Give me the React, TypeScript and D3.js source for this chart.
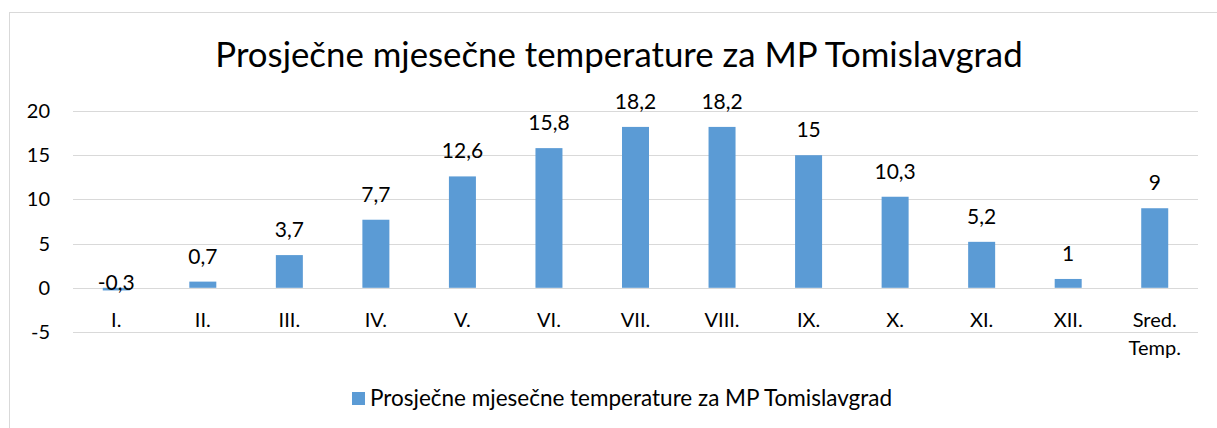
import { useEffect, useRef } from "react";
import * as d3 from "d3";

const categories = ["I.", "II.", "III.", "IV.", "V.", "VI.", "VII.", "VIII.", "IX.", "X.", "XI.", "XII.", "Sred.\nTemp."];
const temperatures = [-0.3, 0.7, 3.7, 7.7, 12.6, 15.8, 18.2, 18.2, 15, 10.3, 5.2, 1, 9];
const yTicks = [-5, 0, 5, 10, 15, 20];
const seriesName = "Prosječne mjesečne temperature za MP Tomislavgrad";
const chartTitle = "Prosječne mjesečne temperature za MP Tomislavgrad";

const FONT = "Lato, 'Open Sans', sans-serif";
const BAR = "#5b9bd5";
const GRID = "#d9d9d9";

export default function App() {
    const svgRef = useRef<SVGSVGElement | null>(null);

    useEffect(() => {
        const svg = d3.select(svgRef.current);
        svg.selectAll("*").remove();

        const width = 1217;
        const height = 428;
        const plot = { left: 73, right: 1198, top: 111, bottom: 332 };

        svg.attr("width", width).attr("height", height);

        // chart frame (runs off the right/bottom edge)
        svg.append("rect")
            .attr("x", 9.5)
            .attr("y", 12.5)
            .attr("width", 1240)
            .attr("height", 440)
            .attr("fill", "#fff")
            .attr("stroke", GRID);

        svg.append("text")
            .attr("x", 619)
            .attr("y", 67)
            .attr("text-anchor", "middle")
            .attr("font-family", FONT)
            .attr("font-size", 34.8)
            .attr("fill", "#000")
            .text(chartTitle);

        const x = d3.scaleBand<string>()
            .domain(categories)
            .range([plot.left, plot.right])
            .paddingInner(0.688)
            .paddingOuter(0.344);

        const y = d3.scaleLinear()
            .domain([-5, 20])
            .range([plot.bottom, plot.top]);

        const g = svg.append("g");

        // gridlines
        g.selectAll(".grid")
            .data(yTicks)
            .join("line")
            .attr("x1", plot.left)
            .attr("x2", plot.right)
            .attr("y1", (d) => Math.round(y(d)) + 0.5)
            .attr("y2", (d) => Math.round(y(d)) + 0.5)
            .attr("stroke", GRID)
            .attr("stroke-width", 1);

        // y tick labels
        g.selectAll(".ytick")
            .data(yTicks)
            .join("text")
            .attr("x", 50)
            .attr("y", (d) => y(d) + 7)
            .attr("text-anchor", "end")
            .attr("font-family", FONT)
            .attr("font-size", 20)
            .attr("fill", "#000")
            .text((d) => String(d));

        const data = categories.map((c, i) => ({ c, v: temperatures[i] }));

        g.selectAll(".bar")
            .data(data)
            .join("rect")
            .attr("x", (d) => x(d.c)!)
            .attr("width", x.bandwidth())
            .attr("y", (d) => y(Math.max(0, d.v)))
            .attr("height", (d) => Math.abs(y(d.v) - y(0)))
            .attr("fill", BAR);

        // value labels
        g.selectAll(".val")
            .data(data)
            .join("text")
            .attr("x", (d) => x(d.c)! + x.bandwidth() / 2)
            .attr("y", (d) => (d.v >= 0 ? y(d.v) - 18 : y(d.v)))
            .attr("text-anchor", "middle")
            .attr("font-family", FONT)
            .attr("font-size", 21)
            .attr("fill", "#000")
            .text((d) => String(d.v).replace(".", ","));

        // category labels
        const cat = g.selectAll(".cat")
            .data(data)
            .join("text")
            .attr("x", (d) => x(d.c)! + x.bandwidth() / 2)
            .attr("y", 327)
            .attr("text-anchor", "middle")
            .attr("font-family", FONT)
            .attr("font-size", 20)
            .attr("fill", "#000");
        cat.selectAll("tspan")
            .data((d) => d.c.split("\n").map((t, i) => ({ t, i, cx: x(d.c)! + x.bandwidth() / 2 })))
            .join("tspan")
            .attr("x", (d) => d.cx)
            .attr("dy", (d) => (d.i === 0 ? 0 : 28))
            .text((d) => d.t);

        // legend
        svg.append("rect")
            .attr("x", 352)
            .attr("y", 392)
            .attr("width", 13)
            .attr("height", 13)
            .attr("fill", BAR);
        svg.append("text")
            .attr("x", 370)
            .attr("y", 406)
            .attr("font-family", FONT)
            .attr("font-size", 22.5)
            .attr("fill", "#000")
            .text(seriesName);
    }, []);

    return (
        <svg
            ref={svgRef}
            style={{ position: "absolute", left: 0, top: 0, display: "block" }}
        />
    );
}
